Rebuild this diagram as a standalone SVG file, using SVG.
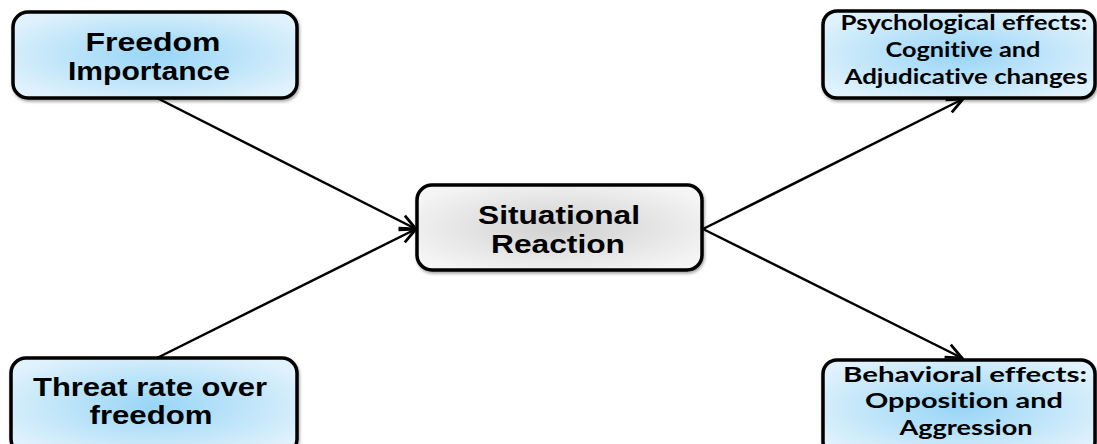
<svg xmlns="http://www.w3.org/2000/svg" width="1097" height="444" viewBox="0 0 1097 444">
<defs>
<radialGradient id="blue" cx="50%" cy="50%" r="60%">
<stop offset="0" stop-color="#98d5f6"/>
<stop offset="1" stop-color="#e0f2fc"/>
</radialGradient>
<radialGradient id="gray" cx="50%" cy="50%" r="60%">
<stop offset="0" stop-color="#d0d0d0"/>
<stop offset="1" stop-color="#f5f5f5"/>
</radialGradient>
<filter id="sh" x="-10%" y="-10%" width="120%" height="130%">
<feDropShadow dx="1" dy="2" stdDeviation="1.5" flood-color="#000" flood-opacity="0.35"/>
</filter>
<marker id="arr" viewBox="0 0 20 20" refX="18" refY="10" markerWidth="20" markerHeight="20" markerUnits="userSpaceOnUse" orient="auto">
<path d="M2,3 L18,10 L2,17" fill="none" stroke="#000" stroke-width="2.8"/>
</marker>
<style>
.box{stroke:#000;stroke-width:3.5;filter:url(#sh)}
.a{font-family:"Liberation Sans",Arial,sans-serif;font-weight:bold;font-size:26px;fill:#000;text-anchor:middle}
.c{font-family:Lato,"Open Sans",sans-serif;font-weight:bold;font-size:21px;fill:#000;text-anchor:middle;font-variant-ligatures:none}
.ln{stroke:#000;stroke-width:2.5;fill:none;marker-end:url(#arr)}
</style>
</defs>
<g id="connectors">
<line class="ln" x1="157" y1="98" x2="416" y2="229"/>
<line class="ln" x1="157" y1="358" x2="416" y2="229"/>
<line class="ln" x1="703" y1="229" x2="963" y2="99"/>
<line class="ln" x1="703" y1="229" x2="962" y2="358"/>
</g>
<g id="freedom">
<rect class="box" x="13" y="12" width="284" height="86" rx="15" fill="url(#blue)"/>
<text class="a" x="153" y="51" textLength="135" lengthAdjust="spacingAndGlyphs">Freedom</text>
<text class="a" x="149" y="80" textLength="162" lengthAdjust="spacingAndGlyphs">Importance</text>
</g>
<g id="threat">
<rect class="box" x="11" y="358" width="286" height="96" rx="15" fill="url(#blue)"/>
<text class="a" x="150" y="396" textLength="234" lengthAdjust="spacingAndGlyphs">Threat rate over</text>
<text class="a" x="151" y="424" textLength="123" lengthAdjust="spacingAndGlyphs">freedom</text>
</g>
<g id="situational">
<rect class="box" x="417" y="185" width="285" height="85" rx="15" fill="url(#gray)"/>
<text class="a" x="559" y="224" textLength="162" lengthAdjust="spacingAndGlyphs">Situational</text>
<text class="a" x="558" y="253" textLength="134" lengthAdjust="spacingAndGlyphs">Reaction</text>
</g>
<g id="psychological">
<rect class="box" x="823" y="11" width="272" height="87" rx="14" fill="url(#blue)"/>
<text class="c" x="964" y="30" textLength="247" lengthAdjust="spacingAndGlyphs">Psychological effects:</text>
<text class="c" x="963" y="57" textLength="155" lengthAdjust="spacingAndGlyphs">Cognitive and</text>
<text class="c" x="966" y="84" textLength="243" lengthAdjust="spacingAndGlyphs">Adjudicative changes</text>
</g>
<g id="behavioral">
<rect class="box" x="823" y="360" width="272" height="96" rx="14" fill="url(#blue)"/>
<text class="c" x="965" y="382" textLength="244" lengthAdjust="spacingAndGlyphs">Behavioral effects:</text>
<text class="c" x="964" y="408" textLength="198" lengthAdjust="spacingAndGlyphs">Opposition and</text>
<text class="c" x="966" y="435" textLength="133" lengthAdjust="spacingAndGlyphs">Aggression</text>
</g>
</svg>
